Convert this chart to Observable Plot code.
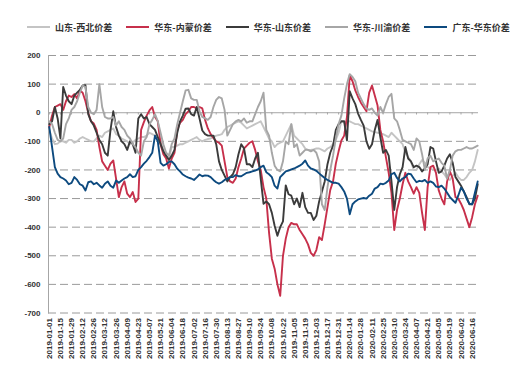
<!DOCTYPE html>
<html><head><meta charset="utf-8">
<script src="https://cdn.jsdelivr.net/npm/d3@7"></script>
<script src="https://cdn.jsdelivr.net/npm/@observablehq/plot@0.6"></script>
<style>
body{margin:0;background:#fff;width:510px;height:386px;overflow:hidden;font-family:"Noto Sans CJK SC",sans-serif}
#legend{display:flex;align-items:center;height:26px;padding-top:14px;padding-left:27px;gap:14px;font-size:9px;color:#333;font-weight:bold;box-sizing:content-box}
.item{display:flex;align-items:center;gap:5px;white-space:nowrap}
.sw{width:23px;height:2px}
</style></head><body>
<div id="legend"></div>
<div id="chart"></div>
<script>
// half-weekly sampling (every 3.5 days) starting here
const startDate = "2019-01-01";
const stepHours = 84;
const seriesNames = ["山东-西北价差", "华东-内蒙价差", "华东-山东价差", "华东-川渝价差", "广东-华东价差"];
const seriesColors = ["#c4c4c4", "#c7304b", "#3b3b3b", "#a6a6a6", "#0d4a7f"];

const shandongXibei = [-60,-90,-110,-108,-100,-100,-105,-95,-95,-105,
  -100,-90,-85,-90,-95,-100,-100,-90,-80,-85,
  -70,-65,-60,-55,-75,-80,-90,-95,-100,-110,
  -105,-95,-90,-85,-85,-80,-70,-75,-80,-90,
  -95,-130,-150,-160,-120,-120,-115,-110,-110,-105,
  -100,-95,-90,-85,-95,-100,-95,-92,-90,-85,
  -80,-78,-75,-60,-50,-45,-40,-35,-30,-35,
  -45,-55,-50,-45,-40,-35,-30,-50,-70,-90,
  -100,-120,-110,-105,-100,-80,-60,-40,-80,-90,
  -100,-110,-125,-130,-130,-128,-125,-125,-130,-135,
  -125,-120,-110,-95,-70,-30,-35,-30,-30,-35,
  -40,-40,-45,-50,-55,-60,-65,-68,-70,-72,
  -75,-80,-85,-70,-80,-90,-100,-110,-140,-155,
  -170,-200,-200,-180,-165,-175,-190,-195,-200,-200,
  -195,-205,-215,-230,-235,-220,-210,-225,-235,-235,
  -225,-210,-200,-170,-130];
const huadongNeimeng = [-50,-10,20,25,30,10,40,60,55,65,
  50,78,70,40,0,-30,-38,-60,-120,-170,
  -185,-200,-178,-167,-230,-295,-260,-240,-283,-295,
  -277,-312,-300,-60,-33,-10,8,20,-15,-30,
  -110,-145,-160,-195,-160,-140,-60,-35,-25,-5,
  5,20,20,15,20,15,-25,-55,-75,-88,
  -100,-105,-115,-170,-225,-240,-245,-230,-190,-160,
  -125,-115,-105,-100,-130,-170,-200,-260,-300,-420,
  -510,-545,-600,-640,-500,-440,-400,-385,-390,-390,
  -410,-425,-440,-460,-490,-500,-480,-435,-445,-390,
  -330,-270,-240,-178,-135,-97,-80,-15,130,110,
  78,55,35,20,5,70,95,60,25,-60,
  -100,-155,-210,-280,-410,-340,-300,-250,-210,-240,
  -260,-283,-260,-280,-350,-410,-260,-190,-185,-210,
  -272,-300,-320,-240,-205,-230,-295,-300,-318,-340,
  -370,-400,-365,-320,-290];
const huadongShandong = [-40,-30,20,-20,-90,90,60,40,30,60,
  70,80,95,96,-5,-30,-45,-70,-95,-110,
  -140,-150,-60,5,-50,-80,-100,-110,-130,-100,
  -110,-140,-20,-5,-20,-15,-40,-50,-60,-85,
  -110,-135,-150,-165,-150,-130,-70,-30,-10,14,
  15,-5,-10,20,-20,-62,-75,-80,-80,-80,
  -110,-170,-200,-220,-240,-225,-215,-190,-145,-110,
  -125,-180,-180,-190,-160,-140,-230,-318,-310,-320,
  -350,-395,-430,-400,-380,-254,-285,-290,-320,-300,
  -330,-280,-330,-350,-350,-375,-360,-310,-275,-240,
  -180,-140,-115,-60,-40,-30,-30,-97,75,50,
  30,-3,-25,-45,-100,-126,-110,-60,-25,-85,
  -140,-130,-150,-240,-340,-260,-215,-190,-120,-160,
  -170,-190,-185,-190,-205,-195,-180,-120,-125,-170,
  -210,-205,-185,-160,-145,-175,-225,-240,-255,-275,
  -295,-320,-320,-300,-250];
const huadongChuanyu = [-30,-40,-70,-95,-100,-90,-40,-20,10,20,
  40,70,95,90,20,0,-5,10,100,20,
  -15,-20,-20,-15,-45,-30,-50,-60,-80,-90,
  -110,-120,-140,-150,-100,-85,-40,-25,-5,-30,
  -70,-110,-140,-150,-110,-90,-40,0,40,78,
  80,50,45,45,5,-15,-20,-25,-15,20,
  45,55,50,10,-80,-60,-40,-30,-25,-30,
  -20,-35,-30,-30,-5,20,40,70,-60,-80,
  -140,-185,-200,-205,-170,-100,-110,-40,-120,-110,
  -150,-140,-130,-130,-135,-130,-140,-170,-320,-340,
  -260,-200,-150,-90,-40,-10,50,100,135,125,
  110,70,50,30,15,10,15,0,-10,20,
  0,30,55,66,-20,-30,-60,-95,-100,-105,
  -110,-130,-90,-100,-145,-200,-160,-150,-170,-165,
  -160,-175,-185,-230,-200,-150,-135,-130,-130,-125,
  -120,-125,-125,-120,-115];
const guangdongHuadong = [-50,-120,-190,-213,-225,-230,-237,-250,-245,-225,
  -235,-250,-255,-272,-243,-240,-250,-245,-254,-262,
  -248,-240,-255,-262,-237,-245,-237,-230,-225,-215,
  -225,-222,-200,-190,-178,-168,-155,-140,-80,-100,
  -175,-185,-180,-172,-170,-180,-196,-205,-216,-222,
  -227,-230,-235,-226,-216,-222,-219,-220,-225,-235,
  -243,-248,-243,-235,-231,-225,-225,-218,-222,-222,
  -216,-210,-208,-205,-202,-198,-190,-185,-208,-215,
  -225,-255,-265,-225,-215,-205,-202,-198,-195,-190,
  -185,-178,-167,-185,-195,-198,-203,-212,-220,-228,
  -235,-240,-245,-245,-248,-260,-275,-300,-355,-320,
  -310,-303,-300,-298,-300,-290,-283,-265,-260,-248,
  -250,-245,-237,-215,-210,-228,-240,-230,-225,-213,
  -215,-230,-243,-238,-240,-235,-245,-240,-245,-258,
  -260,-255,-265,-280,-295,-305,-315,-290,-262,-275,
  -300,-318,-320,-280,-240];

const tickLabels = ["2019-01-01","2019-01-15","2019-01-29","2019-02-12","2019-02-26","2019-03-12","2019-03-26",
  "2019-04-09","2019-04-23","2019-05-07","2019-05-21","2019-06-04","2019-06-18","2019-07-02","2019-07-16",
  "2019-07-30","2019-08-13","2019-08-27","2019-09-10","2019-09-24","2019-10-08","2019-10-22","2019-11-05",
  "2019-11-19","2019-12-03","2019-12-17","2019-12-31","2020-01-14","2020-01-28","2020-02-11","2020-02-25",
  "2020-03-10","2020-03-24","2020-04-07","2020-04-21","2020-05-05","2020-05-19","2020-06-02","2020-06-16"];
const yTicks = [200,100,0,-100,-200,-300,-400,-500,-600,-700];

const parse = d3.utcParse("%Y-%m-%d");
const fmt = d3.utcFormat("%Y-%m-%d");
const start = parse(startDate);
const allSeries = [shandongXibei, huadongNeimeng, huadongShandong, huadongChuanyu, guangdongHuadong];
const tables = allSeries.map((vals, s) => vals.map((v, i) => ({date: d3.utcHour.offset(start, stepHours * i), value: v, name: seriesNames[s]})));
const tickDates = tickLabels.map(parse);

// legend
const legend = document.getElementById("legend");
seriesNames.forEach((n, i) => {
  const it = document.createElement("div");
  it.className = "item";
  it.innerHTML = `<span class="sw" style="background:${seriesColors[i]}"></span><span>${n}</span>`;
  legend.appendChild(it);
});

const chart = Plot.plot({
  width: 510,
  height: 346,
  marginLeft: 48,
  marginRight: 32,
  marginTop: 15,
  marginBottom: 73.5,
  style: {fontFamily: "'Liberation Sans', Arial, sans-serif", fontSize: "8px", fontWeight: "bold", color: "#333", background: "#fff"},
  x: {type: "utc", domain: [new Date(Date.UTC(2018, 11, 31)), new Date(Date.UTC(2020, 5, 24))]},
  y: {domain: [-700, 200]},
  marks: [
    Plot.gridY(yTicks.filter(d => d !== 0), {stroke: "#9a9a9a", strokeOpacity: 1, strokeDasharray: "8,4"}),
    Plot.ruleY([0], {stroke: "#a6a6a6"}),
    Plot.ruleX(tickDates, {y1: 0, y2: -8, stroke: "#a6a6a6"}),
    Plot.frame({anchor: "left", stroke: "#a6a6a6"}),
    Plot.axisY({ticks: yTicks, tickSize: 0, tickPadding: 8, tickFormat: d => String(d), label: null}),
    Plot.axisX({ticks: tickDates, tickFormat: fmt, tickRotate: -90, tickSize: 0, tickPadding: 5, label: null}),
    ...tables.map((t, s) => Plot.line(t, {x: "date", y: "value", stroke: seriesColors[s], strokeWidth: 1.9}))
  ]
});
document.getElementById("chart").appendChild(chart);
</script>
</body></html>
